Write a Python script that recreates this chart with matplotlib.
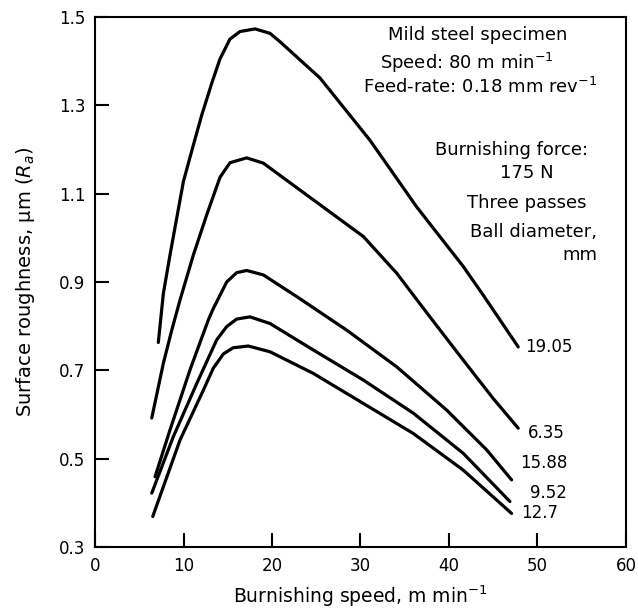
import matplotlib
matplotlib.use('Agg')
import matplotlib.pyplot as plt

# burnishing speed (m/min) and surface roughness Ra (um)
ball_19_05_x = [7.15, 7.72, 8.47, 9.98, 11.11, 12.06, 13.19, 14.12, 15.25, 16.38, 18.08,
                19.77, 20.90, 23.16, 25.42, 31.07, 36.35, 41.62, 43.88, 47.83]
ball_19_05_y = [0.763, 0.874, 0.961, 1.127, 1.210, 1.278, 1.350, 1.405, 1.450, 1.467, 1.473,
                1.463, 1.444, 1.403, 1.362, 1.221, 1.070, 0.935, 0.870, 0.753]

ball_6_35_x = [6.41, 7.72, 8.67, 9.60, 11.11, 12.62, 14.12, 15.25, 17.14, 19.02, 19.77,
               24.67, 30.32, 34.09, 37.85, 41.62, 45.01, 47.83]
ball_6_35_y = [0.592, 0.716, 0.791, 0.859, 0.961, 1.052, 1.137, 1.170, 1.181, 1.169, 1.158,
               1.086, 1.003, 0.920, 0.821, 0.723, 0.636, 0.569]

ball_15_88_x = [6.78, 8.47, 10.73, 12.80, 13.37, 14.88, 16.0, 17.14, 19.02, 22.79, 28.44,
                34.09, 39.74, 44.26, 47.08]
ball_15_88_y = [0.459, 0.565, 0.701, 0.814, 0.840, 0.900, 0.921, 0.926, 0.916, 0.867, 0.791,
                0.708, 0.610, 0.520, 0.452]

ball_9_52_x = [6.41, 8.85, 11.49, 13.75, 14.88, 16.0, 17.51, 19.77, 24.67, 30.32, 35.97,
               41.62, 46.89]
ball_9_52_y = [0.422, 0.550, 0.670, 0.769, 0.799, 0.816, 0.821, 0.806, 0.746, 0.678, 0.603,
               0.512, 0.403]

ball_12_7_x = [6.52, 9.60, 12.24, 13.37, 14.50, 15.6, 17.32, 19.77, 24.67, 30.32, 35.97,
               41.62, 47.08]
ball_12_7_y = [0.369, 0.542, 0.655, 0.705, 0.737, 0.751, 0.755, 0.742, 0.693, 0.625, 0.557,
               0.474, 0.376]

curves = [(ball_19_05_x, ball_19_05_y), (ball_6_35_x, ball_6_35_y), (ball_15_88_x, ball_15_88_y),
          (ball_9_52_x, ball_9_52_y), (ball_12_7_x, ball_12_7_y)]

curve_labels = ['19.05', '6.35', '15.88', '9.52', '12.7']
label_x = [48.6, 48.9, 48.0, 49.2, 48.2]
label_y = [0.753, 0.558, 0.490, 0.422, 0.377]

x_ticks = [0, 10, 20, 30, 40, 50, 60]
y_ticks = [0.3, 0.5, 0.7, 0.9, 1.1, 1.3, 1.5]

fig = plt.figure(figsize=(6.38, 6.15), dpi=100)
ax = fig.add_axes([0.149, 0.1106, 0.832, 0.8618])

for cx, cy in curves:
    ax.plot(cx, cy, color='black', lw=2.3, solid_capstyle='round', solid_joinstyle='round')

for lab, lx, ly in zip(curve_labels, label_x, label_y):
    ax.text(lx, ly, lab, fontsize=12, ha='left', va='center')

# notes in the upper right
notes = [
    (43.2, 1.459, 'Mild steel specimen'),
    (42.0, 1.396, 'Speed: 80 m min$^{-1}$'),
    (43.5, 1.341, 'Feed-rate: 0.18 mm rev$^{-1}$'),
    (47.1, 1.199, 'Burnishing force:'),
    (48.8, 1.147, '175 N'),
    (48.8, 1.079, 'Three passes'),
    (49.6, 1.013, 'Ball diameter,'),
    (54.8, 0.961, 'mm'),
]
for nx, ny, txt in notes:
    ax.text(nx, ny, txt, fontsize=13, ha='center', va='center')

ax.set_xlim(0, 60)
ax.set_ylim(0.3, 1.5)
ax.set_xticks(x_ticks)
ax.set_yticks(y_ticks)
ax.set_yticklabels(['%.1f' % v for v in y_ticks])
ax.tick_params(direction='in', length=10, width=1.5, labelsize=12, pad=7)
for s in ax.spines.values():
    s.set_linewidth(1.5)

ax.set_xlabel('Burnishing speed, m min$^{-1}$', fontsize=13.5, labelpad=6)
ax.set_ylabel('Surface roughness, \u03bcm ($R_a$)', fontsize=14, labelpad=16)

fig.savefig('out.png', dpi=100)
